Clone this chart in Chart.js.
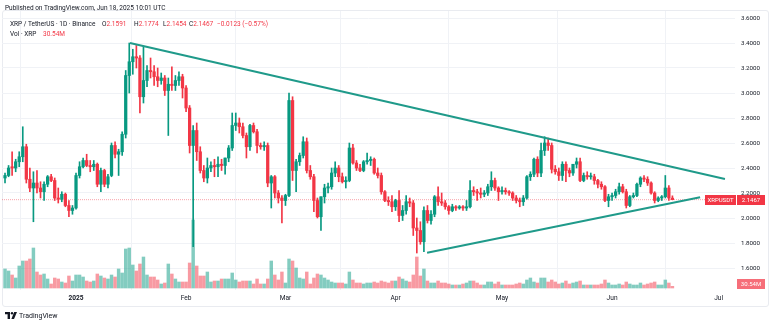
<!DOCTYPE html>
<html>
<head>
<meta charset="utf-8">
<script src="https://cdn.jsdelivr.net/npm/chart.js@4.4.1/dist/chart.umd.min.js"></script>
<style>
  body { margin: 0; background: #fff; font-family: Roboto, "Liberation Sans", sans-serif; color: #131722; }
  #wrap { position: relative; width: 775px; height: 324px; overflow: hidden; }
  #frame { position: absolute; left: 2px; top: 10px; width: 767px; height: 297px; border: 1px solid #e9ebf0; border-radius: 3px; box-sizing: border-box; }
  canvas { position: absolute; left: 0; top: 0; }
  .t { position: absolute; white-space: nowrap; font-size: 6.5px; line-height: 8px; }
  .r { color: #f23645; }
</style>
</head>
<body>
<div id="wrap">
  <div id="frame"></div>
  <canvas id="chart" width="775" height="324"></canvas>
  <div class="t" style="left:5px;top:4px">Published on TradingView.com, Jun 18, 2025 10:01 UTC</div>
  <div class="t" style="left:10px;top:20px">XRP / TetherUS · 1D · Binance</div>
  <div class="t" style="left:102px;top:20px">O<span class="r">2.1591</span></div>
  <div class="t" style="left:134px;top:20px">H<span class="r">2.1774</span></div>
  <div class="t" style="left:163px;top:20px">L<span class="r">2.1454</span></div>
  <div class="t" style="left:189px;top:20px">C<span class="r">2.1467</span></div>
  <div class="t r" style="left:217px;top:20px">−0.0123 (−0.57%)</div>
  <div class="t" style="left:10px;top:30px">Vol · XRP</div>
  <div class="t r" style="left:43px;top:30px">30.54M</div>
  <svg style="position:absolute;left:5px;top:312px" width="12" height="7" viewBox="0 0 12 7">
    <path d="M0 0h5v7H2.6V2.2H0z" fill="#131722"/>
    <circle cx="7" cy="1.2" r="1.2" fill="#131722"/>
    <path d="M9.2 0H12L9 7H6.4z" fill="#131722"/>
  </svg>
  <div class="t" style="left:19px;top:312px;font-size:7px">TradingView</div>
</div>
<script>
// daily candles, first one is Dec 12 2024 (day -20, Jan 1 2025 = day 0)
const firstDay = -20;

const opens = [
  2.32, 2.34, 2.41, 2.40, 2.45, 2.49, 2.57, 2.31, 2.24, 2.28,
  2.24, 2.21, 2.27, 2.33, 2.30, 2.16, 2.15, 2.19, 2.10, 2.06,
  2.08, 2.34, 2.41, 2.46, 2.42, 2.41, 2.43, 2.27, 2.38, 2.27,
  2.34, 2.58, 2.51, 2.53, 2.67, 3.14, 3.25, 3.29, 3.28, 2.97,
  3.10, 3.18, 3.17, 3.13, 3.10, 3.12, 3.02, 3.07, 3.06, 3.10,
  3.13, 3.04, 2.88, 2.58, 2.70, 2.53, 2.38, 2.32, 2.40, 2.42,
  2.41, 2.43, 2.42, 2.48, 2.56, 2.74, 2.76, 2.73, 2.66, 2.57,
  2.74, 2.69, 2.58, 2.57, 2.58, 2.28, 2.33, 2.20, 2.16, 2.14,
  2.18, 2.94, 2.38, 2.45, 2.50, 2.61, 2.38, 2.33, 2.14, 2.01,
  2.17, 2.24, 2.25, 2.36, 2.40, 2.33, 2.29, 2.30, 2.56, 2.44,
  2.40, 2.38, 2.45, 2.46, 2.47, 2.36, 2.34, 2.21, 2.14, 2.13,
  2.09, 2.14, 2.02, 2.06, 2.13, 2.12, 1.92, 1.90, 1.81, 2.06,
  1.98, 2.03, 2.17, 2.13, 2.12, 2.09, 2.06, 2.09, 2.08, 2.09,
  2.08, 2.09, 2.22, 2.21, 2.20, 2.19, 2.20, 2.25, 2.30, 2.24,
  2.21, 2.22, 2.21, 2.20, 2.16, 2.14, 2.13, 2.16, 2.33, 2.35,
  2.47, 2.36, 2.54, 2.60, 2.58, 2.39, 2.37, 2.34, 2.43, 2.38,
  2.36, 2.43, 2.45, 2.30, 2.34, 2.33, 2.33, 2.30, 2.27, 2.25,
  2.14, 2.17, 2.18, 2.21, 2.25, 2.21, 2.10, 2.17, 2.18, 2.27,
  2.32, 2.31, 2.28, 2.20, 2.14, 2.16, 2.17, 2.24, 2.1591
];
const highs = [
  2.36, 2.42, 2.53, 2.47, 2.53, 2.73, 2.59, 2.40, 2.37, 2.38,
  2.29, 2.29, 2.34, 2.35, 2.32, 2.24, 2.21, 2.20, 2.14, 2.10,
  2.36, 2.45, 2.48, 2.51, 2.46, 2.46, 2.44, 2.40, 2.39, 2.35,
  2.60, 2.61, 2.55, 2.69, 3.18, 3.40, 3.35, 3.38, 3.30, 3.37,
  3.22, 3.28, 3.22, 3.20, 3.16, 3.14, 3.12, 3.21, 3.14, 3.17,
  3.15, 3.06, 2.90, 2.74, 2.76, 2.57, 2.42, 2.48, 2.45, 2.47,
  2.49, 2.47, 2.48, 2.58, 2.84, 2.84, 2.80, 2.76, 2.68, 2.75,
  2.76, 2.71, 2.60, 2.61, 2.60, 2.34, 2.34, 2.22, 2.18, 2.19,
  3.00, 2.97, 2.47, 2.52, 2.65, 2.64, 2.42, 2.35, 2.16, 2.17,
  2.27, 2.28, 2.40, 2.45, 2.42, 2.36, 2.33, 2.60, 2.59, 2.46,
  2.43, 2.46, 2.52, 2.49, 2.48, 2.40, 2.36, 2.22, 2.17, 2.18,
  2.15, 2.22, 2.10, 2.18, 2.16, 2.14, 2.00, 1.97, 2.09, 2.10,
  2.06, 2.18, 2.25, 2.20, 2.14, 2.10, 2.11, 2.10, 2.10, 2.10,
  2.14, 2.30, 2.25, 2.23, 2.24, 2.22, 2.27, 2.37, 2.32, 2.25,
  2.25, 2.24, 2.22, 2.21, 2.18, 2.16, 2.18, 2.34, 2.37, 2.48,
  2.49, 2.60, 2.65, 2.64, 2.60, 2.42, 2.40, 2.45, 2.45, 2.40,
  2.43, 2.48, 2.48, 2.36, 2.37, 2.36, 2.35, 2.31, 2.29, 2.26,
  2.19, 2.20, 2.23, 2.28, 2.27, 2.23, 2.18, 2.20, 2.28, 2.33,
  2.34, 2.33, 2.29, 2.21, 2.17, 2.18, 2.34, 2.26, 2.1774
];
const lows = [
  2.28, 2.33, 2.34, 2.37, 2.41, 2.45, 2.28, 2.21, 1.97, 2.20,
  2.16, 2.14, 2.25, 2.29, 2.14, 2.12, 2.13, 2.09, 2.01, 2.03,
  2.07, 2.32, 2.40, 2.41, 2.37, 2.38, 2.25, 2.21, 2.25, 2.24,
  2.33, 2.48, 2.34, 2.50, 2.64, 3.00, 3.15, 3.20, 2.84, 2.92,
  3.05, 3.12, 3.06, 3.05, 3.07, 2.98, 2.66, 3.02, 3.02, 3.06,
  2.96, 2.85, 2.52, 1.77, 2.46, 2.36, 2.29, 2.28, 2.37, 2.33,
  2.33, 2.38, 2.35, 2.45, 2.54, 2.70, 2.68, 2.64, 2.48, 2.54,
  2.68, 2.52, 2.55, 2.54, 2.25, 2.08, 2.16, 2.12, 1.96, 2.10,
  2.17, 2.30, 2.21, 2.42, 2.48, 2.36, 2.31, 2.05, 2.00, 1.90,
  2.12, 2.20, 2.23, 2.33, 2.29, 2.28, 2.24, 2.29, 2.43, 2.38,
  2.37, 2.37, 2.43, 2.42, 2.35, 2.32, 2.19, 2.13, 2.10, 2.05,
  2.06, 1.97, 1.98, 2.03, 2.09, 1.86, 1.72, 1.79, 1.73, 1.96,
  1.95, 2.01, 2.10, 2.10, 2.07, 2.03, 2.05, 2.06, 2.07, 2.06,
  2.06, 2.08, 2.18, 2.14, 2.16, 2.17, 2.18, 2.22, 2.22, 2.14,
  2.19, 2.19, 2.18, 2.14, 2.12, 2.09, 2.10, 2.15, 2.30, 2.33,
  2.33, 2.33, 2.50, 2.54, 2.36, 2.35, 2.30, 2.30, 2.29, 2.33,
  2.34, 2.40, 2.29, 2.29, 2.31, 2.31, 2.27, 2.24, 2.23, 2.13,
  2.09, 2.14, 2.16, 2.19, 2.20, 2.08, 2.09, 2.16, 2.17, 2.25,
  2.29, 2.26, 2.19, 2.12, 2.13, 2.14, 2.16, 2.14, 2.1454
];
const closes = [
  2.34, 2.40, 2.40, 2.45, 2.49, 2.57, 2.31, 2.24, 2.28, 2.24,
  2.21, 2.27, 2.33, 2.30, 2.16, 2.15, 2.19, 2.10, 2.06, 2.08,
  2.34, 2.41, 2.46, 2.42, 2.41, 2.43, 2.27, 2.38, 2.27, 2.33,
  2.58, 2.51, 2.53, 2.67, 3.14, 3.25, 3.29, 3.28, 2.97, 3.10,
  3.18, 3.17, 3.13, 3.10, 3.12, 3.02, 3.07, 3.06, 3.10, 3.13,
  3.04, 2.88, 2.58, 2.70, 2.53, 2.38, 2.32, 2.40, 2.42, 2.41,
  2.43, 2.42, 2.48, 2.56, 2.74, 2.76, 2.73, 2.66, 2.57, 2.74,
  2.69, 2.58, 2.57, 2.58, 2.28, 2.33, 2.20, 2.16, 2.14, 2.18,
  2.94, 2.38, 2.45, 2.50, 2.61, 2.38, 2.33, 2.14, 2.01, 2.17,
  2.24, 2.25, 2.36, 2.40, 2.33, 2.29, 2.30, 2.56, 2.44, 2.40,
  2.38, 2.45, 2.46, 2.47, 2.36, 2.34, 2.21, 2.14, 2.13, 2.09,
  2.14, 2.02, 2.06, 2.13, 2.12, 1.92, 1.90, 1.81, 2.06, 1.98,
  2.03, 2.17, 2.13, 2.12, 2.09, 2.06, 2.09, 2.08, 2.09, 2.08,
  2.09, 2.22, 2.21, 2.20, 2.19, 2.20, 2.25, 2.30, 2.24, 2.21,
  2.22, 2.21, 2.20, 2.16, 2.14, 2.13, 2.16, 2.33, 2.35, 2.47,
  2.36, 2.54, 2.60, 2.58, 2.39, 2.37, 2.34, 2.43, 2.38, 2.36,
  2.43, 2.45, 2.30, 2.34, 2.33, 2.33, 2.30, 2.27, 2.25, 2.14,
  2.17, 2.18, 2.21, 2.25, 2.21, 2.10, 2.17, 2.18, 2.27, 2.32,
  2.31, 2.28, 2.20, 2.14, 2.16, 2.17, 2.24, 2.16, 2.1467
];
// volume in millions of XRP
const volumes = [
  342, 306, 234, 180, 396, 486, 486, 522, 720, 288,
  234, 252, 162, 72, 180, 162, 108, 90, 216, 126,
  234, 234, 198, 126, 108, 126, 252, 216, 180, 162,
  234, 198, 342, 270, 702, 720, 414, 306, 432, 558,
  234, 198, 198, 144, 72, 90, 432, 252, 162, 108,
  108, 108, 450, 1224, 396, 216, 216, 288, 108, 126,
  126, 162, 162, 162, 270, 144, 108, 126, 126, 126,
  72, 162, 72, 72, 162, 486, 234, 144, 288, 90,
  522, 486, 360, 180, 162, 288, 72, 180, 252, 234,
  180, 144, 108, 90, 90, 90, 72, 288, 144, 90,
  90, 72, 90, 90, 108, 90, 126, 108, 90, 126,
  126, 198, 162, 126, 108, 234, 558, 216, 342, 126,
  90, 90, 126, 90, 90, 72, 54, 54, 54, 72,
  90, 126, 126, 90, 54, 54, 108, 108, 72, 108,
  54, 54, 54, 54, 72, 90, 72, 144, 180, 108,
  90, 180, 180, 108, 144, 108, 72, 90, 126, 72,
  90, 108, 126, 54, 54, 54, 54, 54, 72, 144,
  90, 54, 54, 72, 54, 108, 72, 54, 54, 90,
  54, 72, 90, 108, 54, 54, 144, 90, 30.54
];

// triangle trendlines (day, price)
const upperLineDays = [15.2, 182.8];
const upperLinePrices = [3.40, 2.312];
const lowerLineDays = [98.9, 175.8];
const lowerLinePrices = [1.722, 2.166];

// axes
const monthDays = [0, 31, 59, 90, 120, 151, 181];
const monthNames = ['2025', 'Feb', 'Mar', 'Apr', 'May', 'Jun', 'Jul'];
const priceTicks = [1.6, 1.8, 2.0, 2.2, 2.4, 2.6, 2.8, 3.0, 3.2, 3.4, 3.6];
const dayMin = -20.85, dayMax = 185.63;

const UP = '#089981', DOWN = '#f23645';
const days = closes.map((c, i) => firstDay + i);
const isUp = closes.map((c, i) => c >= opens[i]);
const candleColors = isUp.map(u => u ? UP : DOWN);
const volColors = isUp.map(u => u ? 'rgba(8,153,129,0.5)' : 'rgba(242,54,69,0.5)');
const lastClose = closes[closes.length - 1];
const lastVol = volumes[volumes.length - 1];

// price / volume labels on the right axis
const axisLabels = {
    id: 'axisLabels',
    afterDatasetsDraw(chart) {
        const { ctx, chartArea, scales } = chart;
        const r = chartArea.right;
        const yp = Math.round(scales.y.getPixelForValue(lastClose));
        ctx.save();
        ctx.font = '6px Roboto, sans-serif';
        ctx.textBaseline = 'middle';
        ctx.textAlign = 'center';
        ctx.fillStyle = DOWN;
        ctx.fillRect(r - 30, yp - 5, 31, 10);
        ctx.fillRect(r + 2, yp - 5, 28, 10);
        ctx.fillStyle = '#fff';
        ctx.fillText('XRPUSDT', r - 14.5, yp + 0.5);
        ctx.fillText(lastClose.toFixed(4), r + 16, yp + 0.5);

        let yv = scales.yv.getPixelForValue(lastVol);
        yv = Math.min(yv, chartArea.bottom - 6);
        ctx.fillStyle = 'rgba(242,54,69,0.72)';
        ctx.fillRect(r + 2, yv - 5, 28, 10);
        ctx.fillStyle = '#fff';
        ctx.fillText(lastVol.toFixed(2) + 'M', r + 16, yv + 0.5);
        ctx.restore();
    }
};

new Chart(document.getElementById('chart').getContext('2d'), {
    type: 'bar',
    data: {
        datasets: [
            {
                // last price line
                type: 'line',
                data: [{ x: dayMin, y: lastClose }, { x: dayMax, y: lastClose }],
                borderColor: 'rgba(242,54,69,0.45)',
                borderWidth: 1,
                borderDash: [1, 1],
                pointRadius: 0,
                order: 4
            },
            {
                type: 'line',
                data: upperLineDays.map((d, i) => ({ x: d, y: upperLinePrices[i] })),
                borderColor: '#1f9a8a',
                borderWidth: 2,
                pointRadius: 0,
                order: 0
            },
            {
                type: 'line',
                data: lowerLineDays.map((d, i) => ({ x: d, y: lowerLinePrices[i] })),
                borderColor: '#1f9a8a',
                borderWidth: 2,
                pointRadius: 0,
                order: 0
            },
            {
                // candle bodies
                data: days.map((d, i) => ({ x: d, y: [opens[i], closes[i]] })),
                backgroundColor: candleColors,
                barThickness: 2.6,
                minBarLength: 1,
                grouped: false,
                order: 1
            },
            {
                // wicks
                data: days.map((d, i) => ({ x: d, y: [lows[i], highs[i]] })),
                backgroundColor: candleColors,
                barThickness: 1,
                grouped: false,
                order: 2
            },
            {
                // volume
                data: days.map((d, i) => ({ x: d, y: volumes[i] })),
                backgroundColor: volColors,
                barThickness: 2.8,
                grouped: false,
                yAxisID: 'yv',
                order: 5
            }
        ]
    },
    options: {
        responsive: false,
        animation: false,
        devicePixelRatio: 1,
        layout: { padding: { left: 2, top: 11, right: 7, bottom: 18 } },
        plugins: { legend: { display: false }, tooltip: { enabled: false } },
        scales: {
            x: {
                type: 'linear',
                min: dayMin,
                max: dayMax,
                offset: false,
                afterBuildTicks: s => { s.ticks = monthDays.map(v => ({ value: v })); },
                afterFit: s => { s.height = 16; },
                grid: { color: '#f0f2f6', drawTicks: false },
                border: { display: false },
                ticks: {
                    padding: 4,
                    autoSkip: false,
                    maxRotation: 0,
                    color: '#131722',
                    font: c => ({ family: 'Roboto', size: 6.6, weight: c.tick && c.tick.value === 0 ? 'bold' : 'normal' }),
                    callback: v => monthNames[monthDays.indexOf(v)]
                }
            },
            y: {
                position: 'right',
                min: 1.424,
                max: 3.656,
                afterBuildTicks: s => { s.ticks = priceTicks.map(v => ({ value: v })); },
                afterFit: s => { s.width = 33; },
                grid: { color: '#f0f2f6', drawTicks: false },
                border: { display: false },
                ticks: {
                    padding: 6,
                    color: '#131722',
                    font: { family: 'Roboto', size: 6.2 },
                    callback: v => v.toFixed(4)
                }
            },
            yv: { display: false, min: -36, max: 4986 }
        }
    },
    plugins: [axisLabels]
});
</script>
</body>
</html>
